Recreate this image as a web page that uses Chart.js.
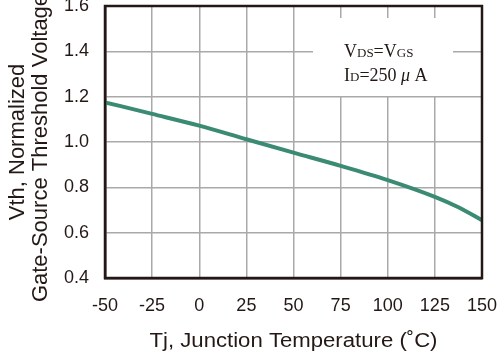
<!DOCTYPE html>
<html>
<head>
<meta charset="utf-8">
<script src="https://cdn.jsdelivr.net/npm/chart.js@4/dist/chart.umd.min.js"></script>
<style>
  html, body { margin: 0; padding: 0; background: #fff; }
  #vthChart { display: block; }
</style>
</head>
<body>
<canvas id="vthChart" width="499" height="357"></canvas>
<script>
// values
const temps = [-50, -25, 0, 25, 50, 75, 100, 125, 137.5, 150];
const vth = [1.175, 1.124, 1.072, 1.012, 0.953, 0.895, 0.832, 0.758, 0.712, 0.655];

const xTicks = [-50, -25, 0, 25, 50, 75, 100, 125, 150];
const yTicks = [0.4, 0.6, 0.8, 1.0, 1.2, 1.4, 1.6];

const ink = '#231815';
const sans = '"Liberation Sans", Arial, sans-serif';
const serif = '"Liberation Serif", "Times New Roman", serif';

// draws a run of [text, size, italic] pieces from x on a baseline
function drawRuns(ctx, runs, x, y) {
  runs.forEach(([txt, size, italic]) => {
    ctx.font = (italic ? 'italic ' : '') + size + 'px ' + serif;
    ctx.fillText(txt, x, y);
    x += ctx.measureText(txt).width;
  });
}

const decorations = {
  id: 'decorations',
  beforeDatasetsDraw(chart) {
    const ctx = chart.ctx;
    ctx.save();
    // condition box covering the grid
    ctx.fillStyle = '#fff';
    ctx.fillRect(313, 18, 140, 78);
    ctx.fillStyle = ink;
    ctx.textBaseline = 'alphabetic';
    ctx.textAlign = 'left';
    drawRuns(ctx, [['V', 18], ['DS', 13], ['=V', 18], ['GS', 13]], 344, 57);
    drawRuns(ctx, [['I', 18], ['D', 13], ['=250 ', 18], ['\u03bc', 18, true], [' A', 18]], 344, 81);
    ctx.restore();
  },
  afterDatasetsDraw(chart) {
    const ctx = chart.ctx;
    const a = chart.chartArea;
    ctx.save();
    ctx.strokeStyle = ink;
    ctx.lineWidth = 2.5;
    ctx.strokeRect(a.left, a.top, a.right - a.left, a.bottom - a.top);
    ctx.restore();
  },
  afterDraw(chart) {
    const ctx = chart.ctx;
    const a = chart.chartArea;
    ctx.save();
    ctx.fillStyle = ink;
    ctx.textAlign = 'center';
    ctx.textBaseline = 'middle';
    ctx.font = '22px ' + sans;
    // y title, two rotated lines
    ctx.save();
    ctx.translate(18, 142);
    ctx.rotate(-Math.PI / 2);
    ctx.fillText('Vth, Normalized', 0, 0);
    ctx.restore();
    ctx.save();
    ctx.translate(41, 148);
    ctx.rotate(-Math.PI / 2);
    ctx.fillText('Gate-Source Threshold Voltage', 0, 0);
    ctx.restore();
    // x title, stretched to the reference width
    ctx.font = '20px ' + sans;
    const txt = 'Tj, Junction Temperature (\u02daC)';
    const w = ctx.measureText(txt).width;
    ctx.translate((a.left + a.right) / 2, 341);
    ctx.scale(288 / w, 1);
    ctx.fillText(txt, 0, 0);
    ctx.restore();
  }
};

new Chart(document.getElementById('vthChart'), {
  type: 'line',
  data: {
    datasets: [{
      data: temps.map((t, i) => ({ x: t, y: vth[i] })),
      borderColor: '#3b8a74',
      borderWidth: 4,
      pointRadius: 0,
      tension: 0.4,
      cubicInterpolationMode: 'monotone',
      fill: false
    }]
  },
  options: {
    responsive: false,
    devicePixelRatio: 1,
    animation: false,
    layout: { padding: { top: 6, right: 17, left: 0, bottom: 0 } },
    plugins: {
      legend: { display: false },
      tooltip: { enabled: false }
    },
    scales: {
      x: {
        type: 'linear',
        min: -50,
        max: 150,
        afterBuildTicks: s => { s.ticks = xTicks.map(v => ({ value: v })); },
        afterFit: s => { s.height = 79; s.paddingLeft = 0; s.paddingRight = 0; },
        grid: { color: '#a9a9a9', lineWidth: 1.5, drawTicks: false },
        border: { color: ink, width: 2.5 },
        ticks: {
          color: ink,
          font: { family: sans, size: 18 },
          padding: 17,
          maxRotation: 0
        }
      },
      y: {
        min: 0.4,
        max: 1.6,
        afterBuildTicks: s => { s.ticks = yTicks.map(v => ({ value: v })); },
        afterFit: s => { s.width = 105; s.paddingTop = 0; s.paddingBottom = 0; },
        grid: { color: '#a9a9a9', lineWidth: 1.5, drawTicks: false },
        border: { color: ink, width: 2.5 },
        ticks: {
          color: ink,
          font: { family: sans, size: 18 },
          padding: 16,
          callback: v => v.toFixed(1)
        }
      }
    }
  },
  plugins: [decorations]
});
</script>
</body>
</html>
